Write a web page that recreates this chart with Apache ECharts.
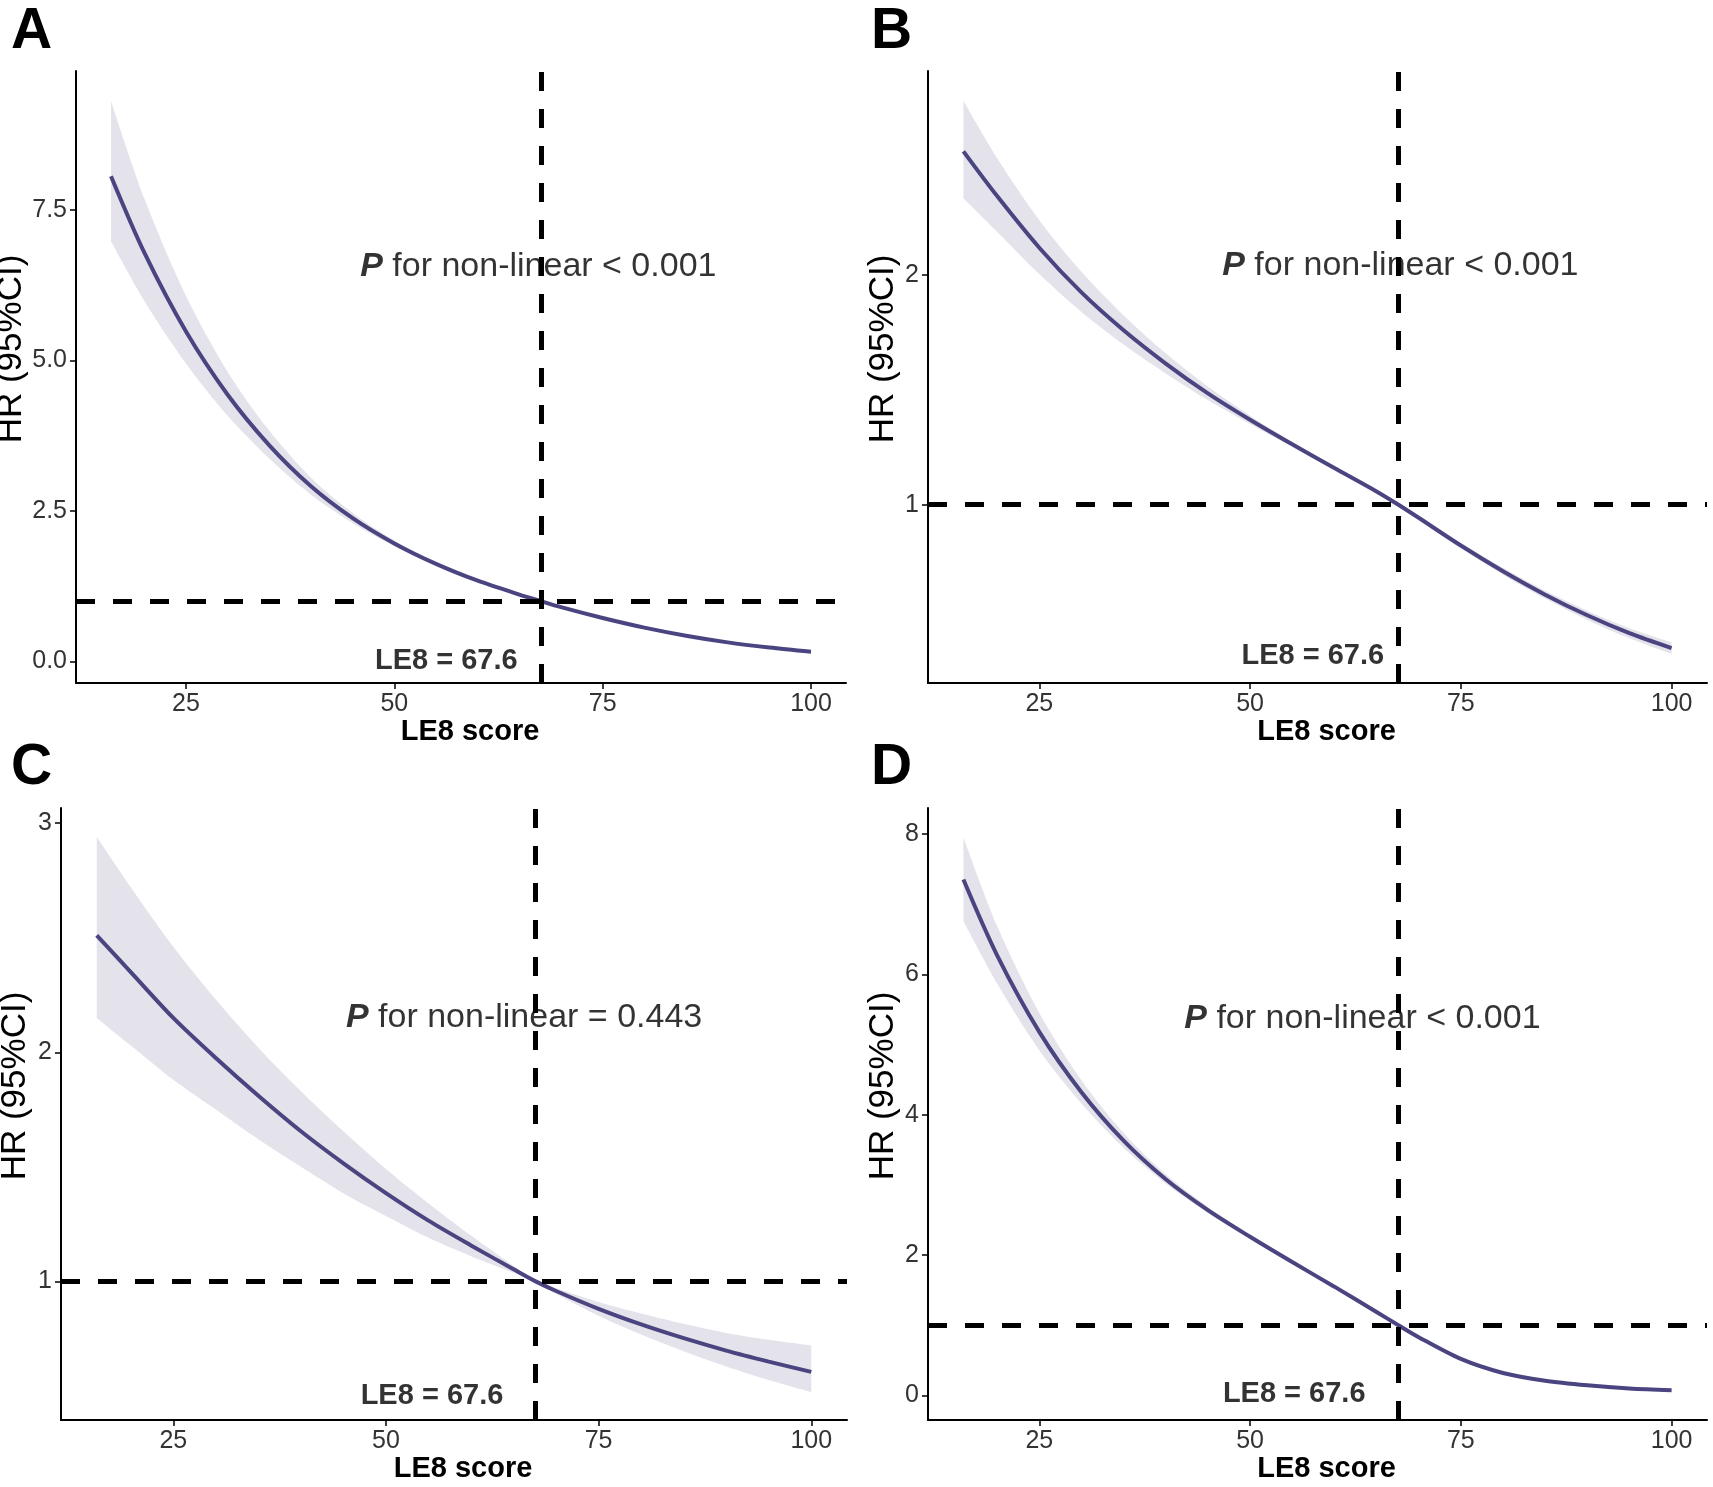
<!DOCTYPE html>
<html>
<head>
<meta charset="utf-8">
<script src="https://cdn.jsdelivr.net/npm/echarts@6/dist/echarts.min.js"></script>
<style>html,body{margin:0;padding:0;background:#fff;}#c{width:1713px;height:1487px;}</style>
</head>
<body>
<div id="c"></div>
<script>
// ---- data ----
const panels = ['A', 'B', 'C', 'D'];
const xVals = [16, 20, 25, 30, 35, 40, 45, 50, 55, 60, 65, 67.6, 70, 75, 80, 85, 90, 95, 100];

const hrA  = [8.06, 6.79, 5.48, 4.43, 3.59, 2.91, 2.38, 1.96, 1.62, 1.34, 1.11, 1.00, 0.90, 0.72, 0.56, 0.425, 0.315, 0.23, 0.16];
const upA  = [9.31, 7.69, 6.07, 4.81, 3.83, 3.05, 2.465, 2.007, 1.644, 1.351, 1.113, 1.00, 0.904, 0.729, 0.572, 0.439, 0.33, 0.244, 0.173];
const lowA = [6.98, 5.99, 4.95, 4.08, 3.37, 2.77, 2.30, 1.914, 1.596, 1.329, 1.107, 1.00, 0.896, 0.711, 0.548, 0.412, 0.301, 0.217, 0.148];

const hrB  = [2.54, 2.345, 2.12, 1.925, 1.76, 1.615, 1.485, 1.37, 1.263, 1.16, 1.058, 1.00, 0.943, 0.822, 0.71, 0.608, 0.518, 0.44, 0.375];
const upB  = [2.76, 2.51, 2.24, 2.015, 1.825, 1.66, 1.515, 1.388, 1.273, 1.166, 1.061, 1.00, 0.948, 0.833, 0.725, 0.625, 0.538, 0.462, 0.40];
const lowB = [2.336, 2.19, 2.005, 1.84, 1.698, 1.572, 1.456, 1.352, 1.253, 1.154, 1.055, 1.00, 0.938, 0.811, 0.695, 0.591, 0.498, 0.418, 0.35];

const hrC  = [2.51, 2.35, 2.15, 1.975, 1.81, 1.655, 1.515, 1.385, 1.265, 1.157, 1.053, 1.00, 0.958, 0.88, 0.812, 0.752, 0.698, 0.65, 0.605];
const upC  = [2.94, 2.72, 2.46, 2.23, 2.02, 1.83, 1.655, 1.49, 1.34, 1.20, 1.067, 1.00, 0.97, 0.91, 0.86, 0.815, 0.775, 0.745, 0.72];
const lowC = [2.15, 2.03, 1.88, 1.75, 1.62, 1.50, 1.385, 1.285, 1.19, 1.11, 1.038, 1.00, 0.946, 0.85, 0.768, 0.695, 0.629, 0.57, 0.517];

const hrD  = [7.35, 6.27, 5.18, 4.32, 3.63, 3.08, 2.64, 2.26, 1.90, 1.55, 1.19, 1.00, 0.83, 0.52, 0.32, 0.21, 0.145, 0.10, 0.075];
const upD  = [7.95, 6.69, 5.45, 4.49, 3.74, 3.15, 2.685, 2.29, 1.92, 1.565, 1.196, 1.00, 0.836, 0.535, 0.338, 0.228, 0.163, 0.116, 0.09];
const lowD = [6.76, 5.87, 4.92, 4.16, 3.53, 3.02, 2.60, 2.23, 1.88, 1.535, 1.184, 1.00, 0.824, 0.505, 0.302, 0.192, 0.127, 0.084, 0.06];

const pTexts = ['< 0.001', '< 0.001', '= 0.443', '< 0.001'];
const cutoff = 67.6;
const refHR = 1;

const xTicks = [25, 50, 75, 100];
const xRange = [11.8, 104.2];
const yTicksA = [0, 2.5, 5, 7.5];
const yTicksB = [1, 2];
const yTicksC = [1, 2, 3];
const yTicksD = [0, 2, 4, 6, 8];
const yRangeA = [-0.36, 9.81];
const yRangeB = [0.223, 2.89];
const yRangeC = [0.395, 3.066];
const yRangeD = [-0.35, 8.37];

// ---- layout / styling ----
const hrs = [hrA, hrB, hrC, hrD];
const ups = [upA, upB, upC, upD];
const lows = [lowA, lowB, lowC, lowD];
const yTicks = [yTicksA, yTicksB, yTicksC, yTicksD];
const yRanges = [yRangeA, yRangeB, yRangeC, yRangeD];
const yFmt = [v => v.toFixed(1), v => String(v), v => String(v), v => String(v)];

const grids = [
  {left: 76, top: 71, width: 770, height: 612, outerBoundsMode: 'none'},
  {left: 928, top: 71, width: 779, height: 612, outerBoundsMode: 'none'},
  {left: 61, top: 808, width: 786, height: 612, outerBoundsMode: 'none'},
  {left: 928, top: 808, width: 779, height: 612, outerBoundsMode: 'none'}
];
// annotation anchors in data coordinates
const pAnchor = [[45.9, 6.56], [46.7, 2.04], [45.3, 2.15], [42.2, 5.37]];
const le8Anchor = [[64.8, 0.0], [65.9, 0.34], [63.8, 0.50], [63.7, 0.02]];
const letterPos = [[11, 4], [871, 4], [11, 740], [871, 740]];

const font = "'Liberation Sans', Arial, sans-serif";
const curveColor = '#4a4580';
const bandColor = '#e4e2ea';
const smoothness = 0.3;

// same bezier smoothing rule that ECharts uses for smooth lines, applied to pixel points
function smoothSegments(pts, s, startWithMove) {
  const n = pts.length;
  const outCp = [], inCp = [];
  for (let k = 0; k < n; k++) {
    const p = pts[k];
    if (k === 0 || k === n - 1) { outCp[k] = p; inCp[k] = p; continue; }
    const prev = pts[k - 1], next = pts[k + 1];
    const vx = next[0] - prev[0], vy = next[1] - prev[1];
    const l0 = Math.hypot(p[0] - prev[0], p[1] - prev[1]);
    const l1 = Math.hypot(next[0] - p[0], next[1] - p[1]);
    const r = l1 / (l0 + l1 || 1);
    outCp[k] = [p[0] + vx * s * r, p[1] + vy * s * r];
    inCp[k] = [p[0] - vx * s * (1 - r), p[1] - vy * s * (1 - r)];
  }
  let d = (startWithMove ? 'M' : 'L') + pts[0][0] + ' ' + pts[0][1];
  for (let k = 0; k < n - 1; k++) {
    d += ' C' + outCp[k][0] + ' ' + outCp[k][1] + ' ' + inCp[k + 1][0] + ' ' + inCp[k + 1][1] + ' ' + pts[k + 1][0] + ' ' + pts[k + 1][1];
  }
  return d;
}

const xAxes = [], yAxes = [], series = [], graphics = [];
panels.forEach((p, i) => {
  xAxes.push({
    type: 'value', gridIndex: i, min: xRange[0], max: xRange[1], z: 10,
    name: 'LE8 score', nameLocation: 'middle', nameGap: 33,
    nameTextStyle: {fontFamily: font, fontWeight: 'bold', fontSize: 29, color: '#000', padding: [0, 0, 0, 18]},
    axisLine: {show: true, onZero: false, lineStyle: {color: '#000', width: 2}},
    axisTick: {show: true, length: 6, lineStyle: {color: '#000', width: 1.5}, customValues: xTicks},
    axisLabel: {fontFamily: font, fontSize: 25, color: '#333', margin: 9, customValues: xTicks},
    splitLine: {show: false}
  });
  yAxes.push({
    type: 'value', gridIndex: i, min: yRanges[i][0], max: yRanges[i][1], z: 10,
    name: 'HR (95%CI)', nameLocation: 'middle', nameRotate: 90,
    nameGap: (i === 0 ? 40 : (i === 2 ? 28 : 25)),
    nameTextStyle: {fontFamily: font, fontSize: 35, color: '#000', padding: [0, 0, 0, 56]},
    axisLine: {show: true, onZero: false, lineStyle: {color: '#000', width: 2}},
    axisTick: {show: true, length: 6, lineStyle: {color: '#000', width: 1.5}, customValues: yTicks[i]},
    axisLabel: {fontFamily: font, fontSize: 25, color: '#333', margin: 9, customValues: yTicks[i], formatter: yFmt[i]},
    splitLine: {show: false}
  });
  const hrPts = xVals.map((x, j) => [x, hrs[i][j]]);
  const bandRows = xVals.map((x, j) => [x, lows[i][j], ups[i][j]]);
  // 95% CI ribbon (area between lower and upper bounds)
  series.push({
    type: 'custom', name: '95% CI', xAxisIndex: i, yAxisIndex: i, coordinateSystem: 'cartesian2d',
    data: bandRows, encode: {x: 0, y: [1, 2]}, silent: true, z: 1,
    renderItem: function (params, api) {
      if (params.dataIndex !== 0) return null;
      const top = bandRows.map(r => api.coord([r[0], r[2]]));
      const bot = bandRows.map(r => api.coord([r[0], r[1]])).reverse();
      const d = smoothSegments(top, smoothness, true) + ' ' + smoothSegments(bot, smoothness, false) + ' Z';
      return {type: 'path', shape: {pathData: d}, style: {fill: bandColor, stroke: null}};
    }
  });
  series.push({
    type: 'line', xAxisIndex: i, yAxisIndex: i, data: hrPts, name: 'HR',
    symbol: 'none', smooth: smoothness, lineStyle: {color: curveColor, width: 4}, z: 3,
    markLine: {
      silent: true, symbol: 'none', label: {show: false}, z: 5,
      lineStyle: {color: '#000', width: 5, type: [19, 18]},
      data: [{yAxis: refHR}, {xAxis: cutoff}]
    }
  });
  series.push({
    type: 'scatter', xAxisIndex: i, yAxisIndex: i, symbolSize: 0, silent: true, z: 4,
    data: [pAnchor[i]],
    label: {
      show: true, position: 'right', distance: 0,
      formatter: '{p|P}{t| for non-linear ' + pTexts[i] + '}',
      rich: {
        p: {fontFamily: font, fontWeight: 'bold', fontStyle: 'italic', fontSize: 34, color: '#000'},
        t: {fontFamily: font, fontSize: 34, color: '#000'}
      }
    }
  });
  series.push({
    type: 'scatter', xAxisIndex: i, yAxisIndex: i, symbolSize: 0, silent: true, z: 4,
    data: [le8Anchor[i]],
    label: {
      show: true, position: 'left', distance: 0,
      formatter: 'LE8 = ' + cutoff,
      fontFamily: font, fontWeight: 'bold', fontSize: 29, color: '#000'
    }
  });
  graphics.push({
    type: 'text', left: letterPos[i][0], top: letterPos[i][1],
    style: {text: p, font: "bold 57px 'Liberation Sans', Arial, sans-serif", fill: '#000'}
  });
});

const chart = echarts.init(document.getElementById('c'), null, {renderer: 'canvas'});
chart.setOption({
  animation: false,
  backgroundColor: '#fff',
  grid: grids,
  xAxis: xAxes,
  yAxis: yAxes,
  series: series,
  graphic: graphics
});
</script>
</body>
</html>
